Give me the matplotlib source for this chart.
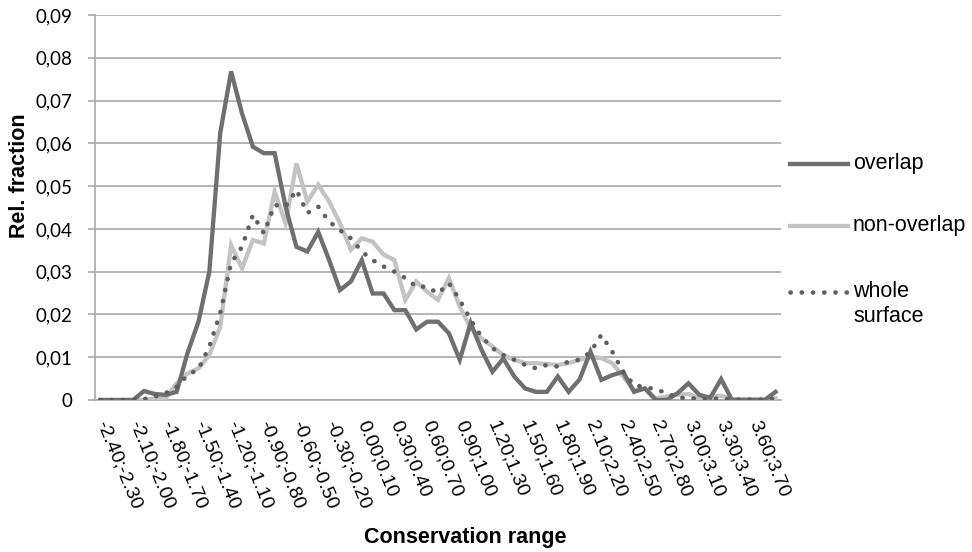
import matplotlib
matplotlib.use("Agg")
import matplotlib.pyplot as plt
from matplotlib.lines import Line2D
import numpy as np

# ---- data ----
starts = [round(-2.4 + 0.1 * k, 2) for k in range(63)]
categories = [f"{s:.2f};{s + 0.1:.2f}" for s in starts]

overlap = [0, 0, 0, 0, 0.0021, 0.0014, 0.0012, 0.0019, 0.011, 0.0183,
           0.030, 0.0624, 0.0768, 0.067, 0.0592, 0.0577, 0.0577, 0.0452, 0.0358, 0.0347,
           0.0393, 0.0327, 0.0257, 0.0277, 0.0327, 0.0249, 0.0249, 0.021, 0.021, 0.0165,
           0.0183, 0.0183, 0.0156, 0.0094, 0.018, 0.0117, 0.0066, 0.0097, 0.0055, 0.0027,
           0.0019, 0.0019, 0.0055, 0.0019, 0.0048, 0.0113, 0.0047, 0.0058, 0.0066, 0.0019,
           0.0027, 0, 0, 0.0016, 0.0039, 0.0012, 0.0005, 0.0049, 0, 0,
           0, 0, 0.0019]

non_overlap = [0, 0, 0, 0, 0, 0.0004, 0.0004, 0.0039, 0.0062, 0.0074,
               0.0105, 0.0171, 0.0362, 0.0308, 0.0374, 0.0366, 0.0487, 0.0413, 0.0553, 0.0464,
               0.0503, 0.0464, 0.0413, 0.0351, 0.0378, 0.037, 0.034, 0.0327, 0.0234, 0.0277,
               0.0253, 0.0234, 0.0285, 0.0218, 0.0168, 0.0144, 0.0125, 0.0105, 0.0094, 0.0086,
               0.0086, 0.0084, 0.0082, 0.0086, 0.0094, 0.0101, 0.0098, 0.0086, 0.0055, 0.0023,
               0.0027, 0.0004, 0.0008, 0.0012, 0.0014, 0.0004, 0.0008, 0.001, 0.0002, 0.0002,
               0.0002, 0.0002, 0.0004]

whole_surface = [0, 0, 0, 0, 0.0002, 0.0008, 0.0016, 0.0031, 0.0058, 0.0072,
                 0.0125, 0.0203, 0.032, 0.0358, 0.0433, 0.039, 0.0456, 0.0452, 0.0491, 0.0437,
                 0.0452, 0.0417, 0.0397, 0.0378, 0.0347, 0.0327, 0.0312, 0.030, 0.0285, 0.0265,
                 0.0265, 0.0249, 0.0273, 0.0234, 0.0187, 0.0148, 0.0121, 0.0105, 0.0094, 0.0082,
                 0.0074, 0.0082, 0.0078, 0.009, 0.0094, 0.0112, 0.0152, 0.0113, 0.0066, 0.0035,
                 0.003, 0.0025, 0.0016, 0.0005, 0.0005, 0.0002, 0.0002, 0.0004, 0.0001, 0.0001,
                 0.0001, 0.0001, 0.0003]

series_names = ["overlap", "non-overlap", "whole\nsurface"]
yticks = [0, 0.01, 0.02, 0.03, 0.04, 0.05, 0.06, 0.07, 0.08, 0.09]
ytick_labels = ["0", "0,01", "0,02", "0,03", "0,04", "0,05", "0,06", "0,07", "0,08", "0,09"]

# ---- styling ----
c_dark = "#6f6f6f"
c_light = "#c3c3c3"
c_dot = "#5f5f5f"
c_grid = "#a8a8a8"

W, H = 972, 552
fig = plt.figure(figsize=(W / 100, H / 100), dpi=100)
ax = fig.add_axes([95 / W, 1 - 400 / H, (781 - 95) / W, (400 - 15) / H])

x = np.arange(len(categories))
st_dark = dict(color=c_dark, lw=3.1, ls="-", solid_joinstyle="miter")
st_light = dict(color=c_light, lw=3.1, ls="-", solid_joinstyle="miter")
st_dot = dict(color=c_dot, lw=3.3, ls=(0, (0.05, 2.4)), dash_capstyle="round")

ax.plot(x, non_overlap, **st_light, zorder=3)
ax.plot(x, overlap, **st_dark, zorder=4)
ax.plot(x, whole_surface, **st_dot, zorder=5)

ax.set_xlim(-0.5, len(categories) - 0.5)
ax.set_ylim(0, 0.09)
ax.set_yticks(yticks)
ax.set_yticklabels(ytick_labels, fontfamily="Lato", fontsize=13.5)
ax.grid(axis="y", color=c_grid, lw=1.2)
ax.set_axisbelow(True)

for s in ["top", "right"]:
    ax.spines[s].set_visible(False)
for s in ["left", "bottom"]:
    ax.spines[s].set_color(c_grid)
    ax.spines[s].set_linewidth(1.2)

ax.tick_params(axis="y", length=5, width=1.2, color=c_grid, pad=11)
ax.set_xticks(x[::3])
ax.set_xticklabels(categories[::3], rotation=-67.5, ha="left", va="center",
                   rotation_mode="anchor", fontfamily="Liberation Sans", fontsize=14)
ax.tick_params(axis="x", length=0, pad=15)

fig.text(19.5 / W, 1 - 176 / H, "Rel. fraction", rotation=90, ha="center", va="center",
         fontfamily="Liberation Sans", fontweight="bold", fontsize=15.5)
fig.text(465 / W, 1 - 537 / H, "Conservation range", ha="center", va="center",
         fontfamily="Liberation Sans", fontweight="bold", fontsize=15.5)

# legend (manual, handle aligned with first text line)
leg_y = [164, 226, 292]
for name, st, yy in zip(series_names, [st_dark, st_light, st_dot], leg_y):
    fy = 1 - yy / H
    fig.add_artist(Line2D([790 / W, 848 / W], [fy, fy], transform=fig.transFigure, **st))
    fig.text(853 / W, 1 - (yy - 11) / H, name, ha="left", va="top",
             fontfamily="Liberation Sans", fontsize=15.5, linespacing=1.25)

fig.savefig("out.png", dpi=100)
